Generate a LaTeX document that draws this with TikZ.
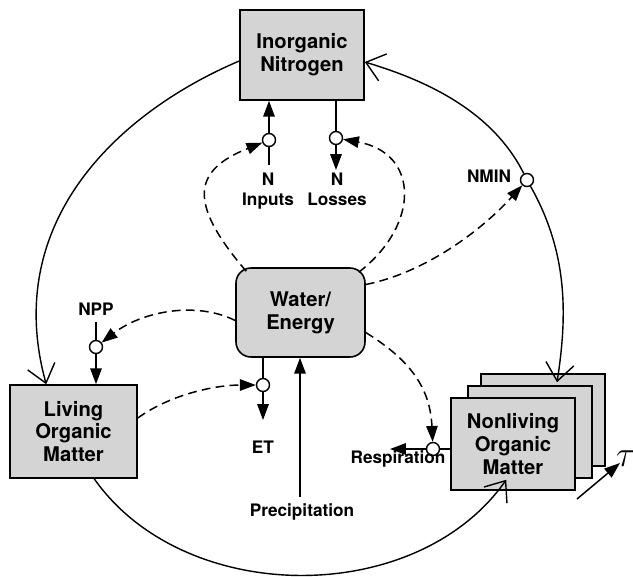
\documentclass[tikz,border=0pt]{standalone}
\usepackage{fontspec}
\setmainfont{TeX Gyre Heros}
\usetikzlibrary{arrows.meta,calc}
\begin{document}
\begin{tikzpicture}[x=0.02cm,y=-0.02cm,
  lbl/.style={font=\fontsize{11.5}{13}\selectfont\bfseries, align=center},
  box/.style={draw, line width=0.9pt, fill=black!17, minimum width=2.48cm, minimum height=1.8cm, inner sep=0pt, lbl},
  small/.style={font=\fontsize{9.8}{11}\selectfont\bfseries, align=center, inner sep=0pt},
  valve/.style={circle, draw, fill=white, line width=0.8pt, minimum size=0.26cm, inner sep=0pt},
  flow/.style={line width=0.85pt},
  farr/.style={flow, -{Triangle[length=9pt,width=6.5pt]}},
  ctrl/.style={line width=0.85pt, dash pattern=on 5pt off 3pt, -{Triangle[length=9pt,width=6.5pt]}},
  cyc/.style={line width=0.8pt, -{Straight Barb[length=10pt,width=16pt]}},
]
\useasboundingbox (0,0) rectangle (633,576);

% boxes
\node[box] (inorg) at (302,55) {Inorganic\\Nitrogen};
\node[box, rounded corners=0.3cm, minimum width=2.58cm, minimum height=1.78cm] (water) at (300.5,312.5) {Water/\\Energy};
\node[box, minimum width=2.54cm, minimum height=1.86cm] (living) at (73.5,431.5) {Living\\Organic\\Matter};
\node[box, minimum height=1.84cm] (nl3) at (543,420) {};
\node[box, minimum height=1.84cm] (nl2) at (530,432) {};
\node[box, minimum height=1.84cm] (nl1) at (513,444) {Nonliving\\Organic\\Matter};

% valves
\node[valve] (vin) at (269,140) {};
\node[valve] (vloss) at (336,138) {};
\node[valve] (vnmin) at (527,180) {};
\node[valve] (vnpp) at (96,347) {};
\node[valve] (vet) at (263,385) {};
\node[valve] (vresp) at (433,449) {};

% labels
\node[small, anchor=north] (lin) at (268,173) {N\\Inputs};
\node[small, anchor=north] (lloss) at (337,173) {N\\Losses};
\node[small] (lnpp) at (96,309) {NPP};
\node[small] (lnmin) at (489,176) {NMIN};
\node[small] (let) at (263,447) {ET};
\node[small] (lprec) at (302,512) {Precipitation};
\node[small] (lresp) at (398,459) {Respiration};
\node[inner sep=0pt] (ltau) at (626,459) {\fontsize{21}{21}\selectfont$\tau$};

% free ends
\coordinate (inTail) at (269,165);
\coordinate (lossHead) at (336,170);
\coordinate (nppTail) at (96,322);
\coordinate (etHead) at (263,420);
\coordinate (precTail) at (300,497);
\coordinate (respHead) at (390,449);
\coordinate (tauA) at (577,499);
\coordinate (tauB) at (620,463);

% solid flows
\draw[flow] (inTail) -- (vin);
\draw[farr] (vin) -- (vin |- inorg.south);
\draw[flow] (vloss |- inorg.south) -- (vloss);
\draw[farr] (vloss) -- (lossHead);
\draw[flow] (nppTail) -- (vnpp);
\draw[farr] (vnpp) -- (vnpp |- living.north);
\draw[flow] (vet |- water.south) -- (vet);
\draw[farr] (vet) -- (etHead);
\draw[farr] (precTail) -- (precTail |- water.south);
\draw[flow] (nl1.west |- vresp) -- (vresp);
\draw[farr] (vresp) -- (respHead);
\draw[farr] (tauA) -- (tauB);

% cycle arcs
\draw[cyc] ($(inorg.west)+(0,6)$) .. controls +(-120,51) and +(-45,-163) .. ($(living.north west)+(37,0)$);
\draw[cyc] ($(living.south west)+(85,0)$) .. controls +(90,128) and +(-90,128) .. ($(nl1.south west)+(56,-11)$);
\draw[cyc] (vnmin) .. controls +(-35,-70) and +(60,18) .. ($(inorg.east)+(0,7)$);
\draw[cyc] (vnmin) .. controls +(40,71) and +(11,-70) .. ($(nl3.north)+(14,9)$);

% dashed controls
\draw[ctrl] ($(water.north west)+(11,4)$) .. controls +(-60,-70) and +(-75,30) .. (vin);
\draw[ctrl] ($(water.north east)+(-7,5)$) .. controls +(62,-48) and +(83,15) .. (vloss);
\draw[ctrl] ($(water.east)+(0,-28)$) .. controls +(60,-12) and +(-45,50) .. (vnmin);
\draw[ctrl] ($(water.west)+(0,8)$) .. controls +(-40,-20) and +(45,-35) .. (vnpp);
\draw[ctrl] ($(living.east)+(0,-13.5)$) .. controls +(35,-25) and +(-45,0) .. (vet);
\draw[ctrl] ($(water.east)+(0,20)$) .. controls +(40,25) and +(-3,-65) .. (vresp);
\end{tikzpicture}
\end{document}
